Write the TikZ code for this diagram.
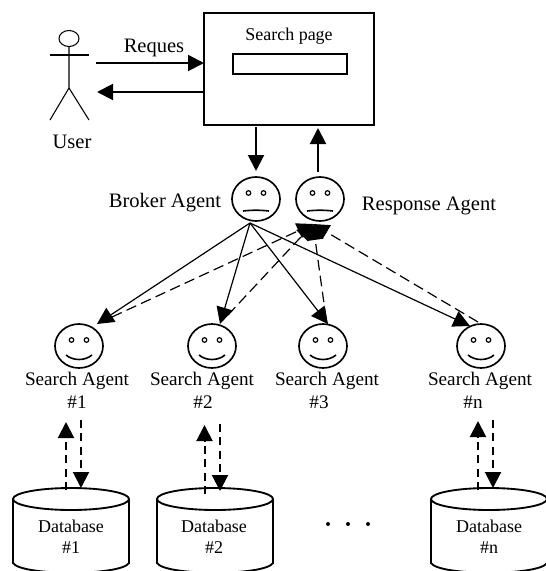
\documentclass[tikz,border=0pt]{standalone}
\usepackage{fontspec}
\setmainfont{Liberation Serif}
\usetikzlibrary{arrows.meta,shapes.geometric}
\tikzset{
  x=0.75pt,y=-0.75pt,
  big/.style={font=\fontsize{15.4pt}{18pt}\selectfont,inner sep=0pt,align=center},
  mid/.style={font=\fontsize{14.4pt}{17pt}\selectfont,inner sep=0pt,align=center},
  small/.style={font=\fontsize{13.5pt}{16pt}\selectfont,inner sep=0pt,align=center},
  thick line/.style={line width=1.5pt,-{Triangle[length=12pt,width=12pt]}},
  solid link/.style={line width=0.9pt,-{Triangle[length=12.5pt,width=12.5pt]}},
  dashed link/.style={line width=0.9pt,dash pattern=on 8pt off 4pt,-{Triangle[length=12pt,width=12pt]}},
  db link/.style={line width=1.5pt,dash pattern=on 6pt off 4pt,-{Triangle[length=12pt,width=12pt]}},
  facecirc/.style={ellipse,draw,line width=1.25pt,minimum width=36pt,minimum height=33pt,inner sep=0pt,outer sep=0pt},
  headshape/.style={ellipse,draw,line width=0.8pt,minimum width=15pt,minimum height=12pt,inner sep=0pt,outer sep=0pt},
  pagebox/.style={rectangle,draw,line width=1.4pt,minimum width=127.5pt,minimum height=84pt,inner sep=0pt,outer sep=0pt},
  fieldbox/.style={rectangle,draw,line width=1.2pt,minimum width=85.5pt,minimum height=15pt,inner sep=0pt,outer sep=0pt},
  stick/.style={line width=0.8pt},
  eyeline/.style={line width=0.9pt},
  mouthline/.style={line width=1.2pt},
  dbline/.style={line width=1.4pt},
}
\newcommand{\facefeat}[2]{%
  \draw[eyeline] (#1) ++(-7.5,-6) circle[radius=2.3];
  \draw[eyeline] (#1) ++(7.5,-6) circle[radius=2.3];
  \ifnum#2=0
    \draw[mouthline] (#1) ++(-13,12) .. controls +(8,-1) and +(-8,-1) .. +(26,0);
  \else
    \draw[mouthline] (#1) ++(-13,9) .. controls +(7,6) and +(-7,6) .. +(26,0);
  \fi}
\newcommand{\dbshape}[2]{%
  \draw[dbline] (#1-58,#2) -- (#1-58,#2+64) .. controls (#1-50,#2+77) and (#1+50,#2+77) .. (#1+58,#2+64) -- (#1+58,#2);
  \draw[dbline] (#1,#2) ellipse[x radius=58,y radius=11];}
\begin{document}
\begin{tikzpicture}
\useasboundingbox (0,0) rectangle (546,571);
% user
\node[headshape] (head) at (69,38.5) {};
\coordinate (hip) at (69,88);
\coordinate (footl) at (50,120);
\coordinate (footr) at (89,120);
\coordinate (arml) at (50,55);
\coordinate (armr) at (89,55);
\draw[stick] (head.south) -- (hip) -- (footl);
\draw[stick] (hip) -- (footr);
\draw[stick] (arml) -- (armr);
\node[big] (user) at (72,142) {User};
\node[big] (reques) at (154,48) {Reques};
% page
\node[pagebox] (page) at (289,69) {};
\node[fieldbox] (field) at (290,64) {};
\node[small] (sp) at (289,36.5) {Search page};
\coordinate (uout) at (96,63);
\coordinate (uin) at (97,92);
\coordinate (pin) at (204,63);
\coordinate (pout) at (204,92);
\coordinate (pbd) at (256,127);
\coordinate (pru) at (318,128);
\draw[thick line] (uout) -- (pin);
\draw[thick line] (pout) -- (uin);
% agents
\node[big] (bl) at (165,203) {Broker Agent};
\node[big] (rl) at (429,206) {Response Agent};
\foreach \n/\x/\y/\m in {b/256/199/0,r/320/199/0,s1/79/346/1,s2/212/346/1,s3/323/346/1,sn/481/346/1}{
  \node[facecirc] (\n) at (\x,\y) {};
  \facefeat{\n}{\m}
}
\coordinate (bin) at (256,171);
\coordinate (rout) at (318,172);
\draw[thick line] (pbd) -- (bin);
\draw[thick line] (rout) -- (pru);
\coordinate (bbot) at (250,223);
\coordinate (rtip) at (313,224);
\coordinate (t1) at (97,324);
\coordinate (t2) at (220,324);
\coordinate (t3) at (328,324);
\coordinate (tn) at (470,326);
\coordinate (f1) at (112,317);
\coordinate (f2) at (228,315);
\coordinate (f3) at (326,318);
\coordinate (fn) at (478,322);
\foreach \t in {t1,t2,t3,tn}{\draw[solid link] (bbot) -- (\t);}
\foreach \f in {f1,f2,f3,fn}{\draw[dashed link] (\f) -- (rtip);}
% labels
\node[mid] (l1) at (77,381) {Search Agent};
\node[mid] (l2) at (202,381) {Search Agent};
\node[mid] (l3) at (327,381) {Search Agent};
\node[mid] (ln) at (480,381) {Search Agent};
\node[mid] (h1) at (77,402.5) {\#1};
\node[mid] (h2) at (203,402.5) {\#2};
\node[mid] (h3) at (319,402.5) {\#3};
\node[mid] (hn) at (473,402.5) {\#n};
% databases
\dbshape{71}{499}
\dbshape{215}{499}
\dbshape{489}{499}
\node[small] (dl1) at (71,526) {Database};
\node[small] (dl2) at (214,526) {Database};
\node[small] (dln) at (489,526) {Database};
\node[small] (dh1) at (71,548) {\#1};
\node[small] (dh2) at (214,548) {\#2};
\node[small] (dhn) at (489,548) {\#n};
% db arrows
\foreach \nm/\ux/\uy/\ut/\dx/\dy/\dt in {a/66/490/422/81/420/488,c/204.5/494/425/220/424/491,d/478/490/421/493/420/488}{
  \coordinate (u\nm) at (\ux,\uy);
  \coordinate (v\nm) at (\ux,\ut);
  \coordinate (w\nm) at (\dx,\dy);
  \coordinate (z\nm) at (\dx,\dt);
  \draw[db link] (u\nm) -- (v\nm);
  \draw[db link] (w\nm) -- (z\nm);
}
\foreach \x in {328,348,368}{\fill (\x,524) circle[radius=2];}
\end{tikzpicture}
\end{document}
